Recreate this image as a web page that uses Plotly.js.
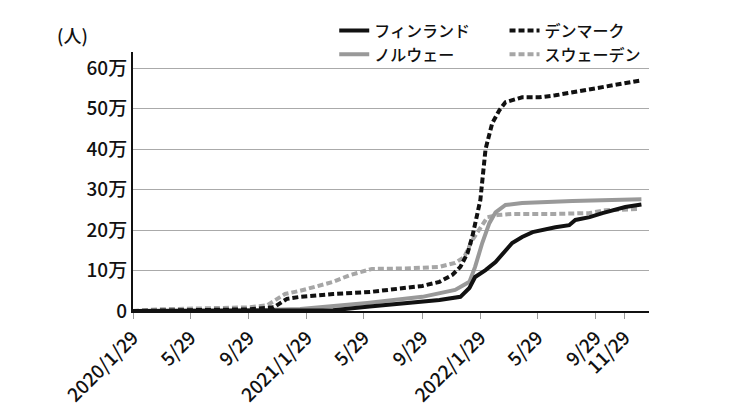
<!DOCTYPE html>
<html>
<head>
<meta charset="utf-8">
<script src="https://cdn.plot.ly/plotly-3.0.1.min.js"></script>
<style>html,body{margin:0;padding:0;background:#fff;}</style>
</head>
<body>
<div id="chart" style="width:744px;height:418px;"></div>
<script>
// ---- data ----
const finlandDates = ['2020-01-29','2020-12-01','2021-03-25','2021-06-10','2021-08-24','2021-09-29','2021-11-04','2021-12-18','2022-01-06','2022-01-18','2022-02-09','2022-03-02','2022-03-23','2022-04-06','2022-04-27','2022-05-19','2022-07-06','2022-08-04','2022-08-17','2022-09-16','2022-10-13','2022-11-03','2022-11-30','2023-01-03'];
const finlandValues = [0,0,2000,11000,18000,22000,27000,35000,57000,84000,101000,121000,151000,168000,183000,195000,207000,212000,225000,232000,242000,249000,257000,263000];

const norwayDates = ['2020-01-29','2020-09-01','2021-01-15','2021-06-05','2021-09-29','2021-12-07','2022-01-06','2022-01-18','2022-02-02','2022-02-17','2022-03-02','2022-03-23','2022-04-27','2022-08-11','2023-01-03'];
const norwayValues = [0,1000,5000,20000,35000,52000,72000,109000,168000,217000,244000,262000,267000,272000,276000];

const denmarkDates = ['2020-01-29','2020-03-19','2020-09-27','2020-11-20','2020-12-01','2020-12-18','2021-01-15','2021-03-25','2021-06-11','2021-08-24','2021-09-29','2021-11-04','2021-12-01','2021-12-18','2022-01-02','2022-01-12','2022-01-23','2022-01-29','2022-02-09','2022-02-23','2022-03-10','2022-03-23','2022-04-27','2022-06-02','2022-07-06','2022-08-11','2022-10-19','2023-01-03'];
const denmarkValues = [0,500,4000,9000,18000,30000,35000,42000,47000,57000,62000,72000,89000,109000,143000,183000,240000,274000,400000,464000,496000,516000,528000,528000,533000,540000,555000,570000];

const swedenDates = ['2020-01-29','2020-03-19','2020-09-27','2020-11-06','2020-11-25','2020-12-14','2021-01-15','2021-02-20','2021-03-25','2021-04-30','2021-06-05','2021-06-15','2021-08-24','2021-09-29','2021-11-04','2021-12-07','2021-12-26','2022-01-12','2022-01-27','2022-02-13','2022-03-06','2022-04-06','2022-07-06','2022-09-16','2022-10-19','2022-12-30'];
const swedenValues = [0,4000,9000,14000,28000,42000,50000,62000,72000,89000,101000,104000,105000,106000,109000,119000,133000,175000,200000,232000,237000,240000,240000,242000,249000,252000];

const xTickVals = ['2020-01-29','2020-05-29','2020-09-29','2021-01-29','2021-05-29','2021-09-29','2022-01-29','2022-05-29','2022-09-29','2022-11-29'];
const xTickText = ['2020/1/29','5/29','9/29','2021/1/29','5/29','9/29','2022/1/29','5/29','9/29','11/29'];
const yTickVals = [0,100000,200000,300000,400000,500000,600000];
const yTickText = ['0','10万','20万','30万','40万','50万','60万'];

const FONT = '"Noto Sans CJK JP", "Noto Sans", sans-serif';
const W = 500;

const traces = [
  {x: swedenDates, y: swedenValues, name: 'スウェーデン', legend: 'legend2', mode: 'lines',
   line: {color: '#a6a6a6', width: 4, dash: '6px,3px'}},
  {x: norwayDates, y: norwayValues, name: 'ノルウェー', legend: 'legend', mode: 'lines',
   line: {color: '#999999', width: 4}},
  {x: denmarkDates, y: denmarkValues, name: 'デンマーク', legend: 'legend2', mode: 'lines',
   line: {color: '#111111', width: 4, dash: '6px,3px'}},
  {x: finlandDates, y: finlandValues, name: 'フィンランド', legend: 'legend', mode: 'lines',
   line: {color: '#111111', width: 4}}
];

const layout = {
  width: 744, height: 418,
  margin: {l: 133, r: 95, t: 52, b: 107},
  paper_bgcolor: '#ffffff', plot_bgcolor: '#ffffff',
  font: {family: FONT, size: 18, color: '#111', weight: W},
  xaxis: {
    type: 'date', range: ['2020-01-29', '2023-01-19'],
    tickmode: 'array', tickvals: xTickVals, ticktext: xTickText,
    tickangle: -45, ticks: 'outside', ticklen: 6, tickcolor: '#999', tickwidth: 1,
    showline: true, linecolor: '#111', linewidth: 2,
    showgrid: false, zeroline: false,
    tickfont: {family: FONT, size: 19, color: '#111', weight: W}
  },
  yaxis: {
    range: [0, 640000],
    tickmode: 'array', tickvals: yTickVals, ticktext: yTickText,
    ticks: '', showline: true, linecolor: '#111', linewidth: 2,
    showgrid: true, gridcolor: '#aaaaaa', gridwidth: 1, zeroline: false,
    ticklabelstandoff: 0,
    tickfont: {family: FONT, size: 19, color: '#111', weight: W}
  },
  showlegend: true,
  legend: {
    x: 0.39, y: 1.148, xanchor: 'left', yanchor: 'top', orientation: 'v',
    traceorder: 'reversed', bgcolor: 'rgba(0,0,0,0)', borderwidth: 0,
    font: {family: FONT, size: 16, color: '#111', weight: W}, tracegroupgap: 0
  },
  legend2: {
    x: 0.72, y: 1.148, xanchor: 'left', yanchor: 'top', orientation: 'v',
    traceorder: 'reversed', bgcolor: 'rgba(0,0,0,0)', borderwidth: 0,
    font: {family: FONT, size: 16, color: '#111', weight: W}, tracegroupgap: 0
  },
  annotations: [
    {text: '(人)', xref: 'paper', yref: 'paper', x: -0.118, y: 1.066,
     xanchor: 'center', yanchor: 'middle', showarrow: false,
     font: {family: FONT, size: 18, color: '#111', weight: W}}
  ]
};

Plotly.newPlot('chart', traces, layout, {displayModeBar: false, staticPlot: true});
</script>
</body>
</html>
